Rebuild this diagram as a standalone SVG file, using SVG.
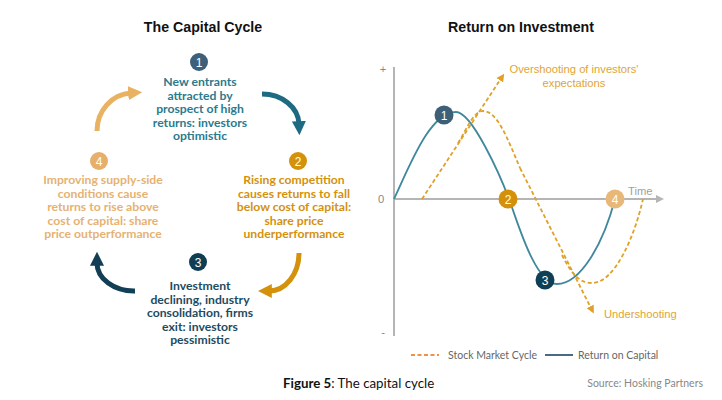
<svg xmlns="http://www.w3.org/2000/svg" width="722" height="400" viewBox="0 0 722 400">
<defs>
<style>
.title{font-family:"Liberation Sans",Arial,sans-serif;font-weight:bold;font-size:14.2px;fill:#111;text-anchor:middle}
.cyc{font-family:Lato,"Open Sans",sans-serif;font-weight:bold;font-size:12.2px;text-anchor:middle}
.num{font-family:"Liberation Sans",Arial,sans-serif;font-size:12px;fill:#fff;text-anchor:middle}
.lbl{font-family:"Liberation Sans",Arial,sans-serif;font-size:11.2px}
.leg{font-family:Lato,"Open Sans",sans-serif;font-size:10.5px;fill:#666}
.arc{fill:none;stroke-width:5}
.axis{stroke:#b5b5b5;stroke-width:2;fill:none}
.dash{fill:none;stroke:#e0a126;stroke-width:1.8;stroke-dasharray:4 2.5}
</style>
<marker id="hTan" viewBox="0 0 10 10" refX="2" refY="5" markerWidth="14" markerHeight="16" markerUnits="userSpaceOnUse" orient="auto"><path d="M0,0 L10,5 L0,10 z" fill="#e8b262"/></marker>
<marker id="hTeal" viewBox="0 0 10 10" refX="2" refY="5" markerWidth="14" markerHeight="16" markerUnits="userSpaceOnUse" orient="auto"><path d="M0,0 L10,5 L0,10 z" fill="#1e6a82"/></marker>
<marker id="hGold" viewBox="0 0 10 10" refX="2" refY="5" markerWidth="14" markerHeight="16" markerUnits="userSpaceOnUse" orient="auto"><path d="M0,0 L10,5 L0,10 z" fill="#d4910c"/></marker>
<marker id="hNavy" viewBox="0 0 10 10" refX="2" refY="5" markerWidth="14" markerHeight="16" markerUnits="userSpaceOnUse" orient="auto"><path d="M0,0 L10,5 L0,10 z" fill="#123f55"/></marker>
<marker id="hDash" viewBox="0 0 10 10" refX="5" refY="5" markerWidth="8" markerHeight="8" markerUnits="userSpaceOnUse" orient="auto"><path d="M0,0 L10,5 L0,10 z" fill="#e0a126"/></marker>
<marker id="hAxis" viewBox="0 0 10 10" refX="5" refY="5" markerWidth="8" markerHeight="8" markerUnits="userSpaceOnUse" orient="auto"><path d="M0,0 L10,5 L0,10 z" fill="#b5b5b5"/></marker>
</defs>
<rect width="722" height="400" fill="#fff"/>

<text class="title" x="203" y="32">The Capital Cycle</text>
<text class="title" x="521" y="32">Return on Investment</text>

<g id="connectors">
<path class="arc" stroke="#e8b262" d="M97,131 A36,38 0 0 1 131,93" marker-end="url(#hTan)"/>
<path class="arc" stroke="#1e6a82" d="M262,94 A37,31 0 0 1 299,124" marker-end="url(#hTeal)"/>
<path class="arc" stroke="#d4910c" d="M299,253 A30,38 0 0 1 269,291" marker-end="url(#hGold)"/>
<path class="arc" stroke="#123f55" d="M135,291 A37,28 0 0 1 97,263" marker-end="url(#hNavy)"/>
</g>

<g id="step1">
<circle cx="199" cy="62" r="9" fill="#3d5f7a"/>
<text class="num" x="199" y="66.5">1</text>
<text class="cyc" fill="#2b7a8e"><tspan x="200" y="86">New entrants</tspan><tspan x="200" y="99.5">attracted by</tspan><tspan x="200" y="113">prospect of high</tspan><tspan x="200" y="126.5">returns: investors</tspan><tspan x="200" y="140">optimistic</tspan></text>
</g>
<g id="step2">
<circle cx="298" cy="161" r="9" fill="#d4910c"/>
<text class="num" x="298" y="165.5">2</text>
<text class="cyc" fill="#d4910c"><tspan x="294" y="184">Rising competition</tspan><tspan x="294" y="197.5">causes returns to fall</tspan><tspan x="294" y="211">below cost of capital:</tspan><tspan x="294" y="224.5">share price</tspan><tspan x="294" y="238">underperformance</tspan></text>
</g>
<g id="step3">
<circle cx="198" cy="262" r="9" fill="#0f3e54"/>
<text class="num" x="198" y="266.5">3</text>
<text class="cyc" fill="#1d4b5e"><tspan x="200" y="290">Investment</tspan><tspan x="200" y="303.5">declining, industry</tspan><tspan x="200" y="317">consolidation, firms</tspan><tspan x="200" y="330.5">exit: investors</tspan><tspan x="200" y="344">pessimistic</tspan></text>
</g>
<g id="step4">
<circle cx="99" cy="161" r="9" fill="#e6b06a"/>
<text class="num" x="99" y="165.5">4</text>
<text class="cyc" fill="#e6b272"><tspan x="103" y="184">Improving supply-side</tspan><tspan x="103" y="197.5">conditions cause</tspan><tspan x="103" y="211">returns to rise above</tspan><tspan x="103" y="224.5">cost of capital: share</tspan><tspan x="103" y="238">price outperformance</tspan></text>
</g>

<g id="chart">
<line class="axis" x1="394" y1="67" x2="394" y2="336"/>
<line class="axis" x1="394" y1="199" x2="660" y2="199" marker-end="url(#hAxis)"/>
<text class="lbl" x="383" y="73" fill="#888" text-anchor="middle">+</text>
<text class="lbl" x="381" y="203" fill="#888" text-anchor="middle">0</text>
<text class="lbl" x="383" y="336" fill="#888" text-anchor="middle">-</text>
<text class="lbl" x="628" y="195" fill="#a0a0a0">Time</text>

<path d="M394,199 C410,165 430,112 456,112 C472,112 500,175 509,199 C517,220 535,284 557,284 C580,284 603,245 615,199" fill="none" stroke="#3f889c" stroke-width="1.8"/>
<path class="dash" d="M458,143 C466,131 473,111 483,111 C497,111 507,137 520,168 M562,255 C572,275 580,283 592,283 C615,283 635,235 643,199"/>
<path class="dash" d="M422,199 L502,77" marker-end="url(#hDash)"/>
<path class="dash" d="M520,168 L592,310" marker-end="url(#hDash)"/>

<circle cx="444" cy="115" r="9.5" fill="#3d6078"/>
<text class="num" x="444" y="119.5">1</text>
<circle cx="508" cy="199" r="9.5" fill="#d4900a"/>
<text class="num" x="508" y="203.5">2</text>
<circle cx="545" cy="280" r="9.5" fill="#0f3f55"/>
<text class="num" x="545" y="284.5">3</text>
<circle cx="615" cy="199" r="9.5" fill="#e8b878"/>
<text class="num" x="615" y="203.5">4</text>

<text class="lbl" fill="#e0a534" text-anchor="middle"><tspan x="574" y="73">Overshooting of investors'</tspan><tspan x="574" y="86.5">expectations</tspan></text>
<text class="lbl" x="604" y="318" fill="#e0a534">Undershooting</text>

<line x1="411" y1="355" x2="439" y2="355" stroke="#f0914a" stroke-width="1.8" stroke-dasharray="4 2.5"/>
<text class="leg" x="448" y="358.5">Stock Market Cycle</text>
<line x1="545" y1="355" x2="573" y2="355" stroke="#4a6a80" stroke-width="2"/>
<text class="leg" x="578" y="358.5">Return on Capital</text>
</g>

<text x="283" y="388" font-family="Lato,'Open Sans',sans-serif" font-size="13.3px" fill="#111"><tspan font-weight="bold">Figure 5</tspan>: The capital cycle</text>
<text x="703" y="387" text-anchor="end" font-family="Lato,'Open Sans',sans-serif" font-size="10.5px" fill="#888">Source: Hosking Partners</text>
</svg>
